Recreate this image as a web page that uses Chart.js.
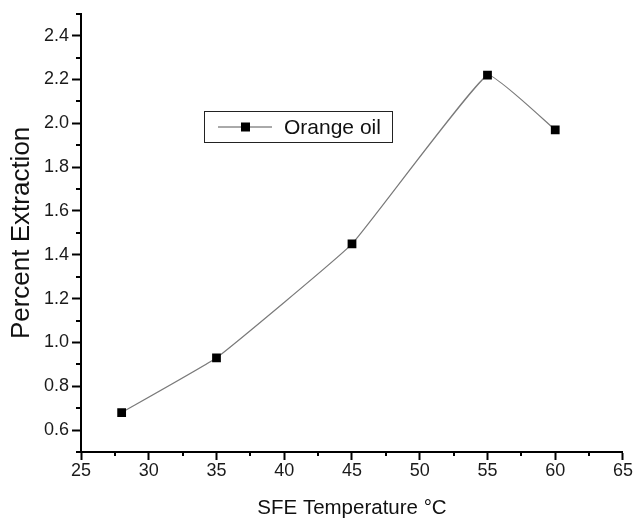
<!DOCTYPE html>
<html>
<head>
<meta charset="utf-8">
<style>
  html, body { margin: 0; padding: 0; background: #fff; }
  #wrap { width: 633px; height: 521px; }
</style>
<script src="https://cdn.jsdelivr.net/npm/chart.js"></script>
</head>
<body>
<div id="wrap"><canvas id="sfeChart" width="633" height="521"></canvas></div>
<script>
const temperatures = [28, 35, 45, 55, 60];
const extraction = [0.68, 0.93, 1.45, 2.22, 1.97];
const xTicks = [25, 30, 35, 40, 45, 50, 55, 60, 65];
const yTicks = [0.6, 0.8, 1.0, 1.2, 1.4, 1.6, 1.8, 2.0, 2.2, 2.4];
const xMinor = [27.5, 32.5, 37.5, 42.5, 47.5, 52.5, 57.5, 62.5];
const yMinor = [0.5, 0.7, 0.9, 1.1, 1.3, 1.5, 1.7, 1.9, 2.1, 2.3, 2.5];

const fontFamily = '"Liberation Sans", Arial, sans-serif';

// minor ticks + floating legend box
const extras = {
  id: 'extras',
  afterDraw(chart) {
    const ctx = chart.ctx;
    const xs = chart.scales.x, ys = chart.scales.y;
    ctx.save();
    ctx.strokeStyle = '#000';
    ctx.lineWidth = 2;
    ctx.beginPath();
    xMinor.forEach(v => {
      const px = Math.round(xs.getPixelForValue(v));
      ctx.moveTo(px, ys.bottom);
      ctx.lineTo(px, ys.bottom + 4);
    });
    yMinor.forEach(v => {
      const py = Math.round(ys.getPixelForValue(v));
      ctx.moveTo(xs.left, py);
      ctx.lineTo(xs.left - 5, py);
    });
    ctx.stroke();

    // legend
    const lx = 204, ly = 111, lw = 188, lh = 31;
    ctx.lineWidth = 1;
    ctx.strokeStyle = '#222';
    ctx.strokeRect(lx + 0.5, ly + 0.5, lw, lh);
    const cy = ly + lh / 2 + 0.5;
    ctx.strokeStyle = '#555';
    ctx.beginPath();
    ctx.moveTo(lx + 14, cy);
    ctx.lineTo(lx + 68, cy);
    ctx.stroke();
    ctx.fillStyle = '#000';
    ctx.fillRect(lx + 37, cy - 4.5, 9, 9);
    ctx.font = '21px ' + fontFamily;
    ctx.textBaseline = 'middle';
    ctx.fillStyle = '#111';
    ctx.fillText('Orange oil', lx + 80, cy + 1);
    ctx.restore();
  }
};

new Chart(document.getElementById('sfeChart').getContext('2d'), {
  type: 'line',
  data: {
    datasets: [{
      label: 'Orange oil',
      data: temperatures.map((t, i) => ({ x: t, y: extraction[i] })),
      borderColor: '#7a7a7a',
      borderWidth: 1.2,
      tension: 0.1,
      pointStyle: 'rect',
      pointRadius: 6.2,
      pointBackgroundColor: '#000',
      pointBorderColor: '#000',
      pointBorderWidth: 0,
      fill: false
    }]
  },
  options: {
    responsive: false,
    animation: false,
    layout: { padding: { top: 12, right: 9, left: 0, bottom: 0 } },
    plugins: {
      legend: { display: false },
      tooltip: { enabled: false }
    },
    scales: {
      x: {
        type: 'linear',
        min: 25,
        max: 65,
        afterBuildTicks(s) { s.ticks = xTicks.map(v => ({ value: v })); },
        afterFit(s) { s.height = 69; },
        grid: { drawOnChartArea: false, drawTicks: true, tickLength: 8, tickColor: '#000', tickWidth: 2 },
        border: { display: true, color: '#000', width: 2 },
        ticks: { color: '#1a1a1a', font: { family: fontFamily, size: 18 }, padding: 0, maxRotation: 0 },
        title: { display: true, text: 'SFE Temperature °C', color: '#111', font: { family: fontFamily, size: 20.5 }, padding: { top: 12, bottom: 0 } }
      },
      y: {
        type: 'linear',
        min: 0.5,
        max: 2.5,
        afterBuildTicks(s) { s.ticks = yTicks.map(v => ({ value: v })); },
        afterFit(s) { s.width = 81; },
        grid: { drawOnChartArea: false, drawTicks: true, tickLength: 9, tickColor: '#000', tickWidth: 2 },
        border: { display: true, color: '#000', width: 2 },
        ticks: { color: '#1a1a1a', font: { family: fontFamily, size: 18 }, padding: 3, callback: v => v.toFixed(1) },
        title: { display: true, text: 'Percent Extraction', color: '#111', font: { family: fontFamily, size: 26 }, padding: { top: 6, bottom: 0 } }
      }
    }
  },
  plugins: [extras]
});
</script>
</body>
</html>
